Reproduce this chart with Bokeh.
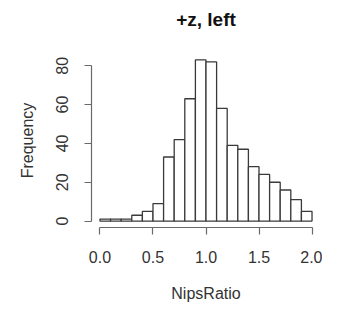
from bokeh.plotting import figure
from bokeh.models import Range1d, FixedTicker, Title
from bokeh.embed import file_html
from bokeh.resources import INLINE

# Histogram data (bin edges 0..2 step 0.1)
bin_edges = [0.0, 0.1, 0.2, 0.3, 0.4, 0.5, 0.6, 0.7, 0.8, 0.9, 1.0,
             1.1, 1.2, 1.3, 1.4, 1.5, 1.6, 1.7, 1.8, 1.9, 2.0]
counts = [1, 1, 1, 3, 5, 9, 33, 42, 63, 83, 82, 58, 39, 37, 28, 24, 20, 16, 11, 5]
x_ticks = [0.0, 0.5, 1.0, 1.5, 2.0]
y_ticks = [0, 20, 40, 60, 80]
title_text = "+z, left"
x_label = "NipsRatio"
y_label = "Frequency"

FONT = "Liberation Sans"

p = figure(width=322, height=306, output_backend="svg", toolbar_location=None,
           x_range=Range1d(-0.08, 2.08), y_range=Range1d(-3.32, 86.32),
           min_border_left=91, min_border_right=2, min_border_top=53, min_border_bottom=79)
p.outline_line_color = None
p.grid.visible = False
p.background_fill_color = "white"
p.border_fill_color = "white"

p.quad(left=bin_edges[:-1], right=bin_edges[1:], bottom=0, top=counts,
       fill_color="white", line_color="#3a3a3a", line_width=1.3)

# spacer between frame and title (stacked nearest the frame)
spacer = Title(text=" ", text_font_size="2px", standoff=18, text_color="white")
p.add_layout(spacer, "above")
t = Title(text=title_text, align="center", text_font=FONT,
          text_font_size="19px", text_font_style="bold", text_color="#111111", standoff=4)
p.add_layout(t, "above")

xa = p.xaxis[0]
xa.ticker = FixedTicker(ticks=x_ticks)
xa.major_label_overrides = {v: f"{v:.1f}" for v in x_ticks}
xa.bounds = (0, 2)
xa.axis_label = x_label

ya = p.yaxis[0]
ya.ticker = FixedTicker(ticks=y_ticks)
ya.bounds = (0, 80)
ya.axis_label = y_label
ya.major_label_orientation = "vertical"

for ax in (xa, ya):
    ax.axis_line_color = "#6a6a6a"
    ax.axis_line_width = 1.2
    ax.major_tick_line_color = "#6a6a6a"
    ax.major_tick_line_width = 1.2
    ax.major_tick_out = 7
    ax.major_tick_in = 0
    ax.minor_tick_line_color = None
    ax.major_label_text_font = FONT
    ax.major_label_text_font_size = "16px"
    ax.major_label_text_color = "#333333"
    ax.axis_label_text_font = FONT
    ax.axis_label_text_font_size = "16px"
    ax.axis_label_text_font_style = "normal"
    ax.axis_label_text_color = "#333333"

xa.major_label_standoff = 16
xa.axis_label_standoff = 19
ya.major_label_standoff = 16
ya.axis_label_standoff = 18

open("out.html", "w").write(file_html(p, INLINE))
